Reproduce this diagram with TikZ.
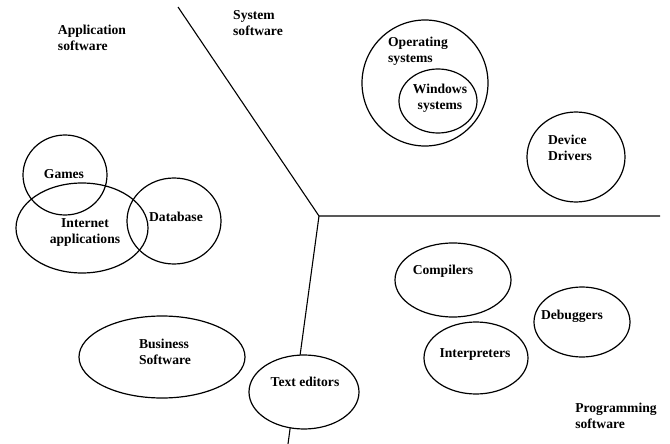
\documentclass[tikz,border=0pt]{standalone}
\usepackage{fontspec}
\setmainfont{Liberation Serif}
\usetikzlibrary{shapes}
\tikzstyle{group} = [ellipse, draw, line width=1.2pt, inner sep=0pt]
\tikzstyle{caption} = [font=\fontsize{13.6}{16}\selectfont\bfseries, align=left, inner sep=0pt]
\tikzstyle{border} = [line width=1.1pt]

\begin{document}
\begin{tikzpicture}[x=1pt, y=-1pt]
  \useasboundingbox (0,0) rectangle (670,444);

  % dividing lines
  \coordinate (top) at (178,7);
  \coordinate (hub) at (319,216);
  \coordinate (east) at (660,216);
  \coordinate (bottom) at (288,444);
  \draw[border] (top) -- (hub) -- (east);
  \draw[border] (hub) -- (bottom);

  % area titles
  \node[caption] (appt) at (92,38) {Application\\software};
  \node[caption] (syst) at (258,23) {System\\software};
  \node[caption] (prgt) at (616,416) {Programming\\software};

  % system software
  \node[group, minimum width=126pt, minimum height=126pt] (os) at (425,83) {};
  \node[group, minimum width=78pt, minimum height=64pt] (win) at (438,101) {};
  \node[group, minimum width=98pt, minimum height=90pt] (drv) at (576,157) {};
  \node[caption] (ost) at (418,51) {Operating\\systems};
  \node[caption, align=center] (wint) at (440,98) {Windows\\systems};
  \node[caption] (drvt) at (570,148) {Device\\Drivers};

  % application software
  \node[group, minimum width=84pt, minimum height=80pt] (game) at (65,175) {};
  \node[group, minimum width=132pt, minimum height=90pt] (inet) at (82,228) {};
  \node[group, minimum width=94pt, minimum height=86pt] (db) at (174,221) {};
  \node[group, minimum width=166pt, minimum height=82pt] (biz) at (162,357) {};
  \node[caption] (gamet) at (64,174) {Games};
  \node[caption, align=center] (inett) at (85,232) {Internet\\applications};
  \node[caption] (dbt) at (176,217) {Database};
  \node[caption] (bizt) at (165,352) {Business\\Software};

  % shared
  \node[group, fill=white, minimum width=110pt, minimum height=74pt] (edit) at (304,392) {};
  \node[caption] (editt) at (305,382) {Text editors};

  % programming software
  \node[group, minimum width=116pt, minimum height=74pt] (comp) at (453,280) {};
  \node[group, minimum width=96pt, minimum height=70pt] (dbg) at (582,322) {};
  \node[group, minimum width=104pt, minimum height=72pt] (intp) at (476,358) {};
  \node[caption] (compt) at (443,271) {Compilers};
  \node[caption] (dbgt) at (572,316) {Debuggers};
  \node[caption] (intpt) at (475,354) {Interpreters};
\end{tikzpicture}
\end{document}
